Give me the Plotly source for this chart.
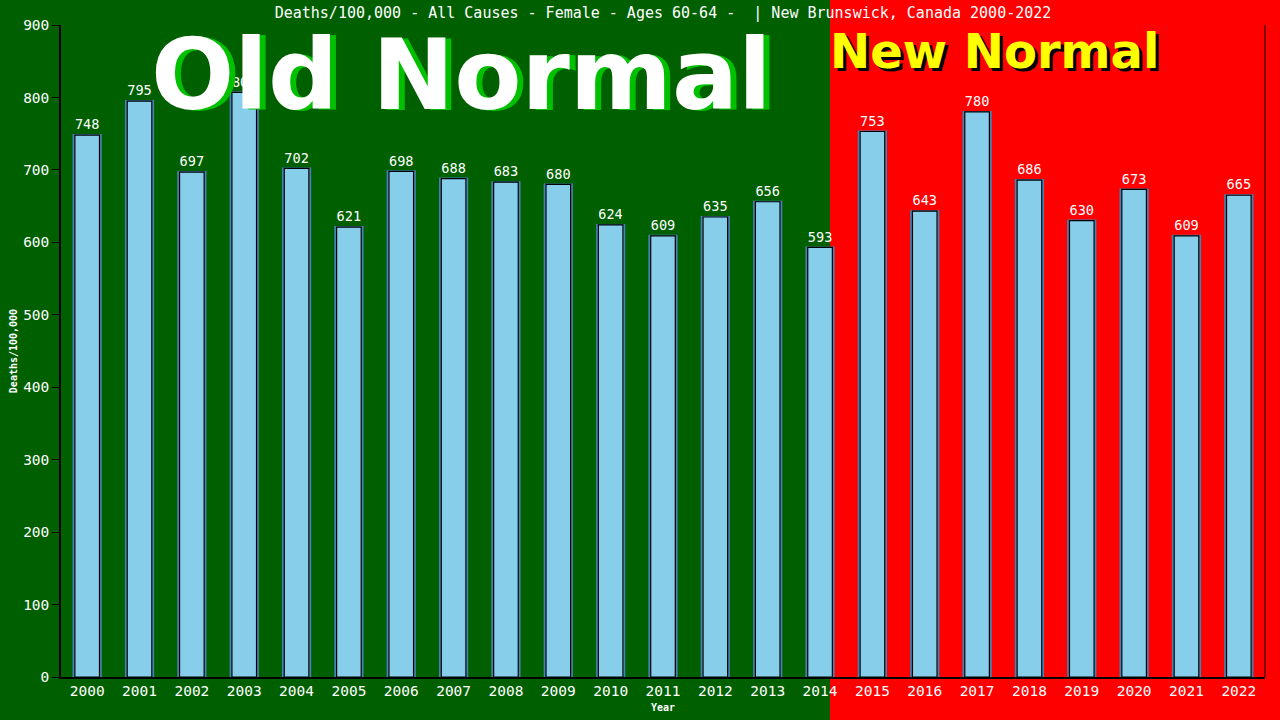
import plotly.graph_objects as go

years = [str(y) for y in range(2000, 2023)]
values = [748, 795, 697, 807, 702, 621, 698, 688, 683, 680, 624, 609, 635, 656, 593,
          753, 643, 780, 686, 630, 673, 609, 665]
y_ticks = list(range(0, 1000, 100))

title_text = "Deaths/100,000 - All Causes - Female - Ages 60-64 -  | New Brunswick, Canada 2000-2022"
mono = "DejaVu Sans Mono"

L, R, T, B = 61, 15, 25, 43
W, H = 1280, 720
pw = W - L - R
ph = H - T - B

def px_x(p):
    return (p - L) / pw

def px_y(p):
    return (H - B - p) / ph

fig = go.Figure()
# outer steel-blue edge
fig.add_trace(go.Bar(
    x=years, y=values,
    width=0.52,
    marker=dict(color="#87CEEB", line=dict(color="#4682B4", width=2)),
    hoverinfo="skip",
    showlegend=False,
))
fig.add_trace(go.Bar(
    x=years, y=values,
    width=0.47,
    marker=dict(color="#87CEEB", line=dict(color="black", width=1.2)),
    text=[str(v) for v in values],
    textposition="outside",
    textfont=dict(family=mono, size=14.5, color="white"),
    cliponaxis=False,
    showlegend=False,
))

split = px_x(830)
shapes = [
    dict(type="rect", xref="paper", yref="paper", x0=px_x(-2), x1=split, y0=px_y(722), y1=px_y(-2),
         fillcolor="#006000", line=dict(width=0), layer="below"),
    dict(type="rect", xref="paper", yref="paper", x0=split, x1=px_x(1282), y0=px_y(722), y1=px_y(-2),
         fillcolor="#FF0000", line=dict(width=0), layer="below"),
    dict(type="line", xref="paper", yref="paper", x0=1, x1=1, y0=0, y1=1,
         line=dict(color="black", width=1)),
]

annotations = [
    dict(text="<b>Old Normal</b>", xref="paper", yref="paper", x=px_x(467), y=px_y(76),
         showarrow=False, font=dict(family="DejaVu Sans", size=98, color="#00C000"),
         xanchor="center", yanchor="middle"),
    dict(text="<b>Old Normal</b>", xref="paper", yref="paper", x=px_x(461), y=px_y(75),
         showarrow=False, font=dict(family="DejaVu Sans", size=98, color="white"),
         xanchor="center", yanchor="middle"),
    dict(text="<b>New Normal</b>", xref="paper", yref="paper", x=px_x(997), y=px_y(54),
         showarrow=False, font=dict(family="DejaVu Sans", size=48, color="black"),
         xanchor="center", yanchor="middle"),
    dict(text="<b>New Normal</b>", xref="paper", yref="paper", x=px_x(994), y=px_y(51),
         showarrow=False, font=dict(family="DejaVu Sans", size=48, color="#FFFF00"),
         xanchor="center", yanchor="middle"),
]

fig.update_layout(
    width=W, height=H,
    margin=dict(l=L, r=R, t=T, b=B, autoexpand=False),
    paper_bgcolor="#006000",
    plot_bgcolor="rgba(0,0,0,0)",
    barmode="overlay",
    title=dict(text=title_text, x=0.5, xref="paper", y=1 - 13 / H, yanchor="middle",
               font=dict(family=mono, size=15, color="white")),
    shapes=shapes,
    annotations=annotations,
    xaxis=dict(
        showline=True, linecolor="black", linewidth=1.5,
        tickfont=dict(family=mono, size=14.5, color="white"),
        ticks="", showgrid=False, automargin=False,
        title=dict(text="<b>Year</b>", font=dict(family=mono, size=10, color="white"), standoff=6),
        range=[-0.5, 22.5],
    ),
    yaxis=dict(
        range=[0, 900], tickvals=y_ticks,
        showline=True, linecolor="black", linewidth=1.5,
        ticks="outside", ticklen=7, tickcolor="black",
        tickfont=dict(family=mono, size=14.5, color="white"),
        showgrid=False, zeroline=False, automargin=False,
        title=dict(text="<b>Deaths/100,000</b>", font=dict(family=mono, size=10, color="white"), standoff=4),
    ),
)

fig.write_html("out.html", config={"displayModeBar": False},
               post_script="document.body.style.margin='0';document.body.style.overflow='hidden';")
